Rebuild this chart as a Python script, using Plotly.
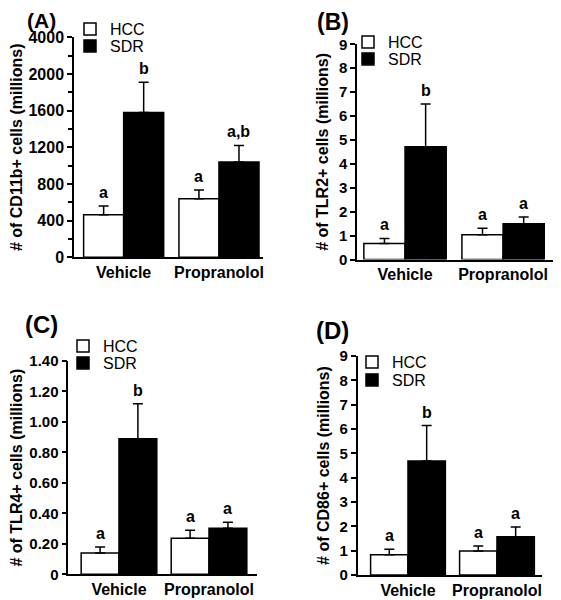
import plotly.graph_objects as go

groups = ["Vehicle", "Propranolol"]
group_pos = [0, 1]

A_hcc = [465, 640]
A_hcc_err = [95, 95]
A_sdr = [1580, 1040]
A_sdr_err = [330, 180]
A_letters_hcc = ["a", "a"]
A_letters_sdr = ["b", "a,b"]
A_tickvals = [0, 400, 800, 1200, 1600, 2000, 2400]
A_ticktext = ["0", "400", "800", "1200", "1600", "2000", "4000"]

B_hcc = [0.67, 1.03]
B_hcc_err = [0.21, 0.28]
B_sdr = [4.72, 1.49]
B_sdr_err = [1.78, 0.29]
B_letters_hcc = ["a", "a"]
B_letters_sdr = ["b", "a"]

C_hcc = [0.14, 0.237]
C_hcc_err = [0.04, 0.052]
C_sdr = [0.89, 0.302]
C_sdr_err = [0.23, 0.04]
C_letters_hcc = ["a", "a"]
C_letters_sdr = ["b", "a"]
C_tickvals = [0, 0.2, 0.4, 0.6, 0.8, 1.0, 1.2, 1.4]
C_ticktext = ["0", "0.20", "0.40", "0.60", "0.80", "1.00", "1.20", "1.40"]

D_hcc = [0.83, 0.99]
D_hcc_err = [0.23, 0.2]
D_sdr = [4.68, 1.57]
D_sdr_err = [1.46, 0.4]
D_letters_hcc = ["a", "a"]
D_letters_sdr = ["b", "a"]

int_ticks = list(range(10))

FONT = "Liberation Sans, Arial, sans-serif"
OFF = 8  # page body margin
W, H = 561 - OFF, 600 - OFF
BAR_HALF = 0.21


def px_x(v):
    return (v - OFF) / W


def px_y(v):
    return 1 - (v - OFF) / H


panels = [
    dict(name="A", hcc=A_hcc, hcce=A_hcc_err, sdr=A_sdr, sdre=A_sdr_err,
         lh=A_letters_hcc, ls=A_letters_sdr, yrange=[0, 2400],
         tickvals=A_tickvals, ticktext=A_ticktext, minor=200,
         title="# of CD11b+ cells (millions)",
         xpx=(74, 263), ypx=(37.3, 257.3), xr=[-0.521, 1.462], tfs=16,
         label_xy=(41, 8), label_anchor="top", label_fs=21,
         sq_x=84, leg_y=(29, 46)),
    dict(name="B", hcc=B_hcc, hcce=B_hcc_err, sdr=B_sdr, sdre=B_sdr_err,
         lh=B_letters_hcc, ls=B_letters_sdr, yrange=[0, 9],
         tickvals=int_ticks, ticktext=[str(v) for v in int_ticks], minor=None,
         title="# of TLR2+ cells (millions)",
         xpx=(357, 558), ypx=(44.3, 259.5), xr=[-0.49, 1.56], tfs=15,
         label_xy=(333, 8), label_anchor="top", label_fs=23,
         sq_x=362, leg_y=(42, 59)),
    dict(name="C", hcc=C_hcc, hcce=C_hcc_err, sdr=C_sdr, sdre=C_sdr_err,
         lh=C_letters_hcc, ls=C_letters_sdr, yrange=[0, 1.4],
         tickvals=C_tickvals, ticktext=C_ticktext, minor=None,
         title="# of TLR4+ cells (millions)",
         xpx=(68.3, 257), ypx=(361, 574.3), xr=[-0.563, 1.533], tfs=15,
         label_xy=(41, 324), label_anchor="middle", label_fs=24,
         sq_x=77, leg_y=(346, 363)),
    dict(name="D", hcc=D_hcc, hcce=D_hcc_err, sdr=D_sdr, sdre=D_sdr_err,
         lh=D_letters_hcc, ls=D_letters_sdr, yrange=[0, 9],
         tickvals=int_ticks, ticktext=[str(v) for v in int_ticks], minor=None,
         title="# of CD86+ cells (millions)",
         xpx=(357.7, 542), ypx=(356, 575), xr=[-0.565, 1.506], tfs=15,
         label_xy=(332, 330), label_anchor="middle", label_fs=24,
         sq_x=366, leg_y=(362, 380)),
]

fig = go.Figure()
annotations = []
layout_extra = {}

for i, p in enumerate(panels):
    n = "" if i == 0 else str(i + 1)
    xa, ya = "x" + n, "y" + n
    leg_h = "legend" + ("" if i == 0 else str(2 * i + 1))
    leg_s = "legend" + str(2 * i + 2)
    fig.add_trace(go.Bar(
        x=group_pos, y=p["hcc"], name="HCC",
        marker=dict(color="white", line=dict(color="black", width=1.5)),
        error_y=dict(type="data", array=p["hcce"], arrayminus=[0, 0],
                     color="black", thickness=1.5, width=5),
        xaxis=xa, yaxis=ya, legend=leg_h, showlegend=True))
    fig.add_trace(go.Bar(
        x=group_pos, y=p["sdr"], name="SDR",
        marker=dict(color="black", line=dict(color="black", width=1.5)),
        error_y=dict(type="data", array=p["sdre"], arrayminus=[0, 0],
                     color="black", thickness=1.5, width=5),
        xaxis=xa, yaxis=ya, legend=leg_s, showlegend=True))

    x0, x1 = px_x(p["xpx"][0]), px_x(p["xpx"][1])
    y0, y1 = px_y(p["ypx"][1]), px_y(p["ypx"][0])
    layout_extra["xaxis" + n] = dict(
        domain=[x0, x1], range=p["xr"], anchor=ya, automargin=False,
        tickvals=group_pos, ticktext=groups, ticks="",
        showline=True, linecolor="black", linewidth=1.5,
        showgrid=False, zeroline=False,
        tickfont=dict(family=FONT, size=16, color="black", weight="bold"),
    )
    yax = dict(
        domain=[y0, y1], range=p["yrange"], anchor=xa, automargin=False,
        tickvals=p["tickvals"], ticktext=p["ticktext"],
        ticks="outside", ticklen=5, tickwidth=1.5, tickcolor="black",
        showline=True, linecolor="black", linewidth=1.5,
        showgrid=False, zeroline=False,
        tickfont=dict(family=FONT, size=p["tfs"], color="black", weight="bold"),
        title=dict(text=p["title"], standoff=6,
                   font=dict(family=FONT, size=16, color="black", weight="bold")),
    )
    if p["minor"]:
        yax["minor"] = dict(tick0=0, dtick=p["minor"], ticks="outside",
                            ticklen=4, tickwidth=1.5, tickcolor="black",
                            showgrid=False)
    layout_extra["yaxis" + n] = yax

    for leg, ly in ((leg_h, p["leg_y"][0]), (leg_s, p["leg_y"][1])):
        layout_extra[leg] = dict(
            x=px_x(p["sq_x"] - 14), y=px_y(ly), xanchor="left", yanchor="middle",
            bgcolor="rgba(0,0,0,0)", borderwidth=0, tracegroupgap=0,
            font=dict(family=FONT, size=16, color="black"),
            itemclick=False, itemdoubleclick=False,
        )

    for j in range(2):
        annotations.append(dict(
            x=group_pos[j] - BAR_HALF, y=p["hcc"][j] + p["hcce"][j],
            xref=xa, yref=ya, text=p["lh"][j], showarrow=False,
            yanchor="bottom", yshift=3,
            font=dict(family=FONT, size=16, color="black", weight="bold")))
        annotations.append(dict(
            x=group_pos[j] + BAR_HALF, y=p["sdr"][j] + p["sdre"][j],
            xref=xa, yref=ya, text=p["ls"][j], showarrow=False,
            yanchor="bottom", yshift=3,
            font=dict(family=FONT, size=16, color="black", weight="bold")))

    cx, cy = p["label_xy"]
    annotations.append(dict(
        x=px_x(cx), y=px_y(cy), xref="paper", yref="paper",
        text="(" + p["name"] + ")", showarrow=False,
        xanchor="center", yanchor=p["label_anchor"], borderpad=0,
        font=dict(family=FONT, size=p["label_fs"], color="black", weight="bold")))

fig.update_layout(
    width=W, height=H,
    margin=dict(l=0, r=0, t=0, b=0),
    paper_bgcolor="white", plot_bgcolor="white",
    barmode="group", bargap=0.16, bargroupgap=0,
    font=dict(family=FONT, color="black"),
    annotations=annotations,
    **layout_extra,
)

fig.write_html("out.html")
